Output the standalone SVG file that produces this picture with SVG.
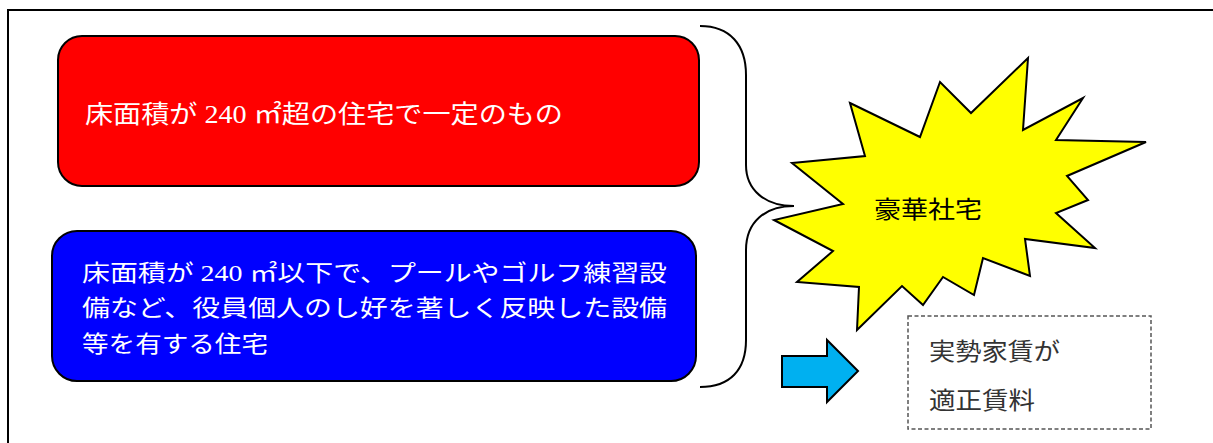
<svg xmlns="http://www.w3.org/2000/svg" width="1213" height="443" viewBox="0 0 1213 443">
<style>
.box{stroke:#000;stroke-width:2}
.wt{fill:#fff;font-family:"Liberation Serif","Noto Sans CJK JP",serif}
.jp{font-family:"Noto Sans CJK JP","Noto Sans CJK SC",sans-serif}
</style>
<rect x="8" y="10" width="1230" height="460" fill="#fff" stroke="#000" stroke-width="2"/>
<g id="node-red">
<rect class="box" x="58" y="36" width="641" height="150" rx="24" fill="#ff0000"/>
<text class="wt" x="85" y="123" font-size="25" textLength="478" lengthAdjust="spacingAndGlyphs"><tspan class="jp">床面積が</tspan> 240 <tspan class="jp">㎡超の住宅で一定のもの</tspan></text>
</g>
<g id="node-blue">
<rect class="box" x="52" y="231" width="644" height="150" rx="25" fill="#0000ff"/>
<text class="wt" font-size="23">
<tspan x="82" y="281" textLength="585" lengthAdjust="spacingAndGlyphs"><tspan class="jp">床面積が</tspan> 240 <tspan class="jp">㎡以下で、プールやゴルフ練習設</tspan></tspan>
<tspan class="jp" x="82" y="316" textLength="585" lengthAdjust="spacingAndGlyphs">備など、役員個人のし好を著しく反映した設備</tspan>
<tspan class="jp" x="82" y="352" textLength="186" lengthAdjust="spacingAndGlyphs">等を有する住宅</tspan>
</text>
</g>
<g id="node-star">
<polygon points="850,103 920,137 940,82 971,113 1028,58 1023,130 1083,98 1056,140 1146,142 1067,176 1088,200 1056,213 1095,248 1025,239 1030,276 983,258 974,295 943,277 923,305 902,286 857,330 859,287 797,282 833,251 774,220 843,204 792,163 865,156" fill="#ffff00" stroke="#000" stroke-width="2" stroke-linejoin="miter"/>
<text class="jp" x="874" y="218" font-size="24" textLength="108" lengthAdjust="spacingAndGlyphs" fill="#000">豪華社宅</text>
</g>
<g id="node-result">
<rect x="908" y="316" width="243" height="113" fill="#fff" stroke="#555" stroke-width="1.5" stroke-dasharray="4,2.5"/>
<text class="jp" font-size="24" fill="#333">
<tspan x="929" y="360" textLength="131" lengthAdjust="spacingAndGlyphs">実勢家賃が</tspan>
<tspan x="929" y="409" textLength="106" lengthAdjust="spacingAndGlyphs">適正賃料</tspan>
</text>
</g>
<g id="connectors">
<path d="M700,26 C730,26 746,45 746,75 L746,165 C746,190 765,206 794,206 C765,206 746,222 746,250 L746,340 C746,370 730,387 700,387" fill="none" stroke="#000" stroke-width="2"/>
<polygon points="782,356 827,356 827,340 858,371 827,402 827,387 782,387" fill="#00b0f0" stroke="#000" stroke-width="2"/>
</g>
</svg>
